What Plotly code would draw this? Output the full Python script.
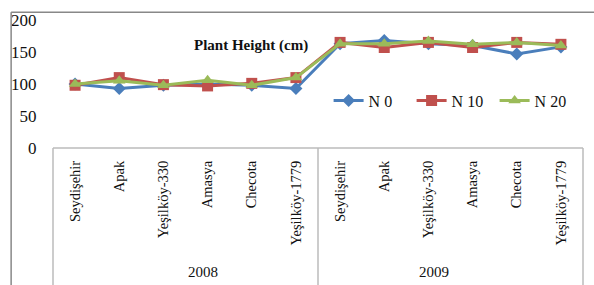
import plotly.graph_objects as go

varieties = ["Seydişehir", "Apak", "Yeşilköy-330", "Amasya", "Checota", "Yeşilköy-1779"]
years = ["2008", "2009"]
categories = varieties + varieties

n0 = [100, 93, 98, 100, 98, 93, 163, 168, 163, 160, 147, 158]
n10 = [98, 110, 99, 97, 101, 110, 165, 157, 165, 157, 165, 162]
n20 = [100, 105, 98, 106, 98, 110, 163, 163, 167, 162, 165, 160]

series_names = ["N 0", "N 10", "N 20"]
y_ticks = [0, 50, 100, 150, 200]

FONT = "Liberation Serif"
x_idx = list(range(len(categories)))

fig = go.Figure()
styles = [
    ("#4A7EBB", "diamond", 10),
    ("#C0504D", "square", 11),
    ("#9BBB59", "triangle-up", 11),
]
for name, vals, (col, sym, sz) in zip(series_names, [n0, n10, n20], styles):
    fig.add_trace(go.Scatter(
        x=x_idx, y=vals, name=name, mode="lines+markers",
        line=dict(color=col, width=3),
        marker=dict(symbol=sym, size=sz, color=col),
    ))

fig.update_layout(
    width=594, height=285,
    margin=dict(l=52, r=11, t=18, b=137),
    paper_bgcolor="white", plot_bgcolor="white",
    font=dict(family=FONT, color="#111", size=14),
    showlegend=True,
    legend=dict(orientation="h", x=0.52, y=0.37, xanchor="left", yanchor="middle",
                font=dict(family=FONT, size=16, color="#111"),
                bgcolor="rgba(0,0,0,0)", entrywidth=38, entrywidthmode="pixels",
                tracegroupgap=0),
    xaxis=dict(range=[-0.5, len(categories) - 0.5], tickmode="array",
               tickvals=x_idx, ticktext=categories, tickangle=-90,
               showgrid=False, zeroline=False, showline=False,
               ticks="outside", ticklen=6, tickcolor="rgba(0,0,0,0)",
               tickfont=dict(family=FONT, size=14.5, color="#111")),
    yaxis=dict(range=[0, 200], tickmode="array", tickvals=y_ticks,
               showgrid=False, zeroline=False, showline=False,
               ticks="outside", ticklen=12, tickcolor="rgba(0,0,0,0)",
               tickfont=dict(family=FONT, size=17, color="#111")),
)

fig.add_annotation(text="<b>Plant Height (cm)</b>", xref="paper", yref="paper",
                   x=0.373, y=0.885, showarrow=False,
                   font=dict(family=FONT, size=15, color="#111"))

for i, yr in enumerate(years):
    fig.add_annotation(text=yr, xref="paper", yref="paper",
                       x=0.25 + 0.5 * i, y=-1.045, yanchor="bottom", showarrow=False,
                       font=dict(family=FONT, size=15, color="#111"))

grey = "#BBBBBB"
# category box
fig.add_shape(type="line", xref="paper", yref="paper", x0=0, x1=1, y0=0, y1=0,
              line=dict(color=grey, width=1.5))
for xp in [0, 0.5, 1]:
    fig.add_shape(type="line", xref="paper", yref="paper", x0=xp, x1=xp, y0=0, y1=-1.1,
                  line=dict(color=grey, width=1.5))
# outer frame
fig.add_shape(type="line", xref="paper", yref="paper", x0=-0.079, x1=1.03, y0=1.0615, y1=1.0615,
              line=dict(color="#888888", width=1.5))
fig.add_shape(type="line", xref="paper", yref="paper", x0=-0.079, x1=-0.079, y0=1.0615, y1=-1.1,
              line=dict(color="#888888", width=1.5))

fig.write_html("out.html", post_script="document.body.style.margin='0';",
               config={"displayModeBar": False})
